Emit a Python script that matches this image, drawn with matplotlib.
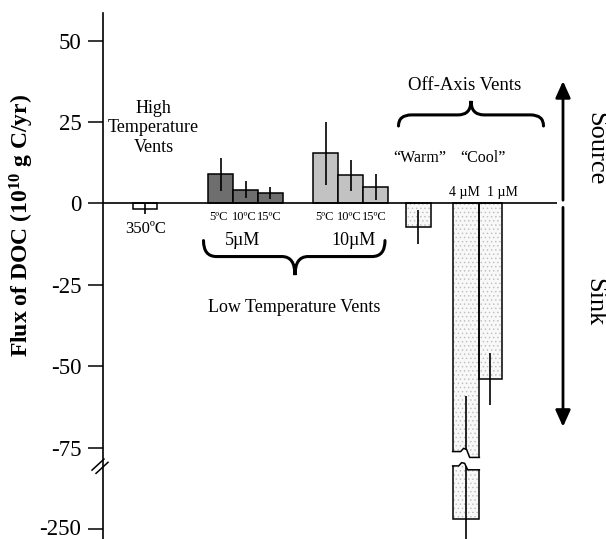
import numpy as np
import matplotlib.pyplot as plt
from matplotlib.path import Path
from matplotlib.patches import PathPatch, Polygon

plt.rcParams['font.family'] = ['Liberation Serif', 'DejaVu Serif']
plt.rcParams['mathtext.default'] = 'regular'
plt.rcParams['hatch.linewidth'] = 0.5

# flux of DOC, 10^10 g C/yr
high_flux = [-1.6]
high_err = [1.5]

temps = ['5ºC', '10ºC', '15ºC']
low5_flux = [8.9, 4.2, 3.2]
low5_err = [5.0, 2.6, 1.8]
low10_flux = [15.4, 8.6, 5.0]
low10_err = [9.6, 4.8, 4.0]

off_labels = ['4 µM', '1 µM']
off_flux = [-7.3, -247.0, -54.0]
off_err = [5.3, 188.0, 8.0]

tick_vals = [50, 25, 0, -25, -50, -75, -250]


def brk(v):
    """map real values onto the broken axis (-250 sits where -100 would be)"""
    v = np.asarray(v, dtype=float)
    return np.where(v < -80, v + 150, v)


def errbars(ax, x, y, e):
    y = np.asarray(y)
    e = np.asarray(e)
    ax.vlines(x, brk(y - e), brk(y + e), color='black', lw=1.2, zorder=4)


def brace(ax, x0, x1, y_end, y_mid, y_tip, xtip, r=13):
    verts = [(x0, y_end), (x0, y_mid), (x0 + r, y_mid),
             (xtip - r, y_mid), (xtip, y_mid), (xtip, y_tip),
             (xtip, y_mid), (xtip + r, y_mid),
             (x1 - r, y_mid), (x1, y_mid), (x1, y_end)]
    codes = [Path.MOVETO, Path.CURVE3, Path.CURVE3,
             Path.LINETO, Path.CURVE3, Path.CURVE3,
             Path.CURVE3, Path.CURVE3,
             Path.LINETO, Path.CURVE3, Path.CURVE3]
    ax.add_patch(PathPatch(Path(verts, codes), fc='none', ec='black', lw=2.2,
                           capstyle='round', clip_on=False))


fig = plt.figure(figsize=(6.06, 5.39), dpi=100)
ax = fig.add_axes([103 / 606, 0, 1 - 103 / 606, 526 / 539])
ax.set_xlim(103, 606)
ax.set_ylim(-103.05, 58.5)

# bar layout (x in pixel-like units)
x_high = np.array([145.3])
x_5 = 208 + 25 * (np.arange(3) + 0.5)
x_10 = 313.5 + 25 * (np.arange(3) + 0.5)
x_off = np.array([418.3, 466.0, 490.5])
w_off = np.array([25.3, 26.7, 22.3])

ax.hlines(0, 103, 556.7, color='black', lw=1.2, zorder=3)

# high temperature vents
ax.bar(x_high, high_flux, width=24, color='white', edgecolor='black', lw=1.1, zorder=2)
errbars(ax, x_high, high_flux, high_err)

# low temperature vents
ax.bar(x_5, low5_flux, width=25, color='#6e6e6e', edgecolor='black', lw=1.1, zorder=2)
ax.bar(x_10, low10_flux, width=25, color='#c2c2c2', edgecolor='black', lw=1.1, zorder=2)
errbars(ax, x_5, low5_flux, low5_err)
errbars(ax, x_10, low10_flux, low10_err)

# off-axis vents, stippled
off_disp = brk(off_flux)
ax.bar(x_off, off_disp, width=w_off, color='#f8f8f8', hatch='....',
       edgecolor='#bdbdbd', lw=0, zorder=1)
ax.bar(x_off, off_disp, width=w_off, fill=False, edgecolor='black', lw=1.1, zorder=2)
errbars(ax, x_off, off_flux, off_err)

# break in the 4 uM bar
bx0 = x_off[1] - w_off[1] / 2
bx1 = x_off[1] + w_off[1] / 2
upper = [(bx0, -76.2), (bx0 + 8, -76.2), (bx0 + 11, -75.2), (bx0 + 14, -75.6),
         (bx0 + 17, -78.0), (bx1, -78.0)]
lower = [(bx0, -80.6), (bx0 + 6, -80.6), (bx0 + 9, -79.6), (bx0 + 12, -79.8),
         (bx0 + 15, -81.8), (bx1, -81.8)]
gap = [(bx0 - 2, y) for _, y in upper[:1]] + upper + [(bx1 + 2, upper[-1][1])] + \
      [(bx1 + 2, lower[-1][1])] + lower[::-1] + [(bx0 - 2, lower[0][1])]
ax.add_patch(Polygon(gap, closed=True, fc='white', ec='none', zorder=5))
ax.plot(*zip(*upper), color='black', lw=1.1, zorder=6)
ax.plot(*zip(*lower), color='black', lw=1.1, zorder=6)

# axis styling
for s in ['top', 'right', 'bottom']:
    ax.spines[s].set_visible(False)
ax.spines['left'].set_linewidth(1.2)
ax.set_xticks([])
ax.set_yticks(brk(tick_vals))
ax.set_yticklabels([str(t) for t in tick_vals])
ax.tick_params(axis='y', direction='out', length=10.5, width=1.1, labelsize=16.5, pad=5)
# keep the lowest label inside the figure
ax.get_yticklabels()[-1].set_va('center')

# axis break marks
ax.plot([92, 104], [-81.9, -78.5], color='black', lw=1.1, clip_on=False)
ax.plot([96, 108], [-82.9, -79.5], color='black', lw=1.1, clip_on=False)

# labels
ax.text(153.5, 23.2, 'High\nTemperature\nVents', ha='center', va='center', fontsize=13,
        linespacing=1.2)
ax.text(x_high[0], -7.8, '350ºC', ha='center', va='center', fontsize=12)
for xs in (x_5, x_10):
    for x, t in zip(xs, temps):
        ax.text(x - 1.5, -4.1, t, ha='center', va='center', fontsize=9)
ax.text(243, -11.5, '5µM', ha='center', va='center', fontsize=13)
ax.text(353.5, -11.5, '10µM', ha='center', va='center', fontsize=13)
brace(ax, 203.5, 385, -11.4, -16.3, -22.0, 295)
ax.text(294, -31.8, 'Low Temperature Vents', ha='center', va='center', fontsize=13)

brace(ax, 398.5, 543.5, 23.8, 27.2, 31.5, 471)
ax.text(464.7, 36.1, 'Off-Axis Vents', ha='center', va='center', fontsize=13.5)
ax.text(420, 14.1, '\u201cWarm\u201d', ha='center', va='center', fontsize=11.5)
ax.text(482.7, 14.1, '\u201cCool\u201d', ha='center', va='center', fontsize=11.5)
ax.text(464, 3.3, off_labels[0], ha='center', va='center', fontsize=10)
ax.text(502, 3.3, off_labels[1], ha='center', va='center', fontsize=10)

# source / sink arrows
head = '-|>,head_length=1.0,head_width=0.45'
ax.annotate('', xy=(563, 37.6), xytext=(563, 1.0),
            arrowprops=dict(arrowstyle=head, color='black', lw=2, shrinkA=0, shrinkB=0))
ax.annotate('', xy=(563, -68.6), xytext=(563, -1.2),
            arrowprops=dict(arrowstyle=head, color='black', lw=2, shrinkA=0, shrinkB=0))
ax.text(595, 16.7, 'Source', rotation=270, ha='center', va='center', fontsize=19)
ax.text(594, -30.3, 'Sink', rotation=270, ha='center', va='center', fontsize=19)

fig.text(22 / 606, 1 - 225 / 539, 'Flux of DOC (10$^{10}$ g C/yr)', rotation=90,
         ha='center', va='center', fontsize=17, fontweight='bold')

fig.savefig('out.png', dpi=100)
